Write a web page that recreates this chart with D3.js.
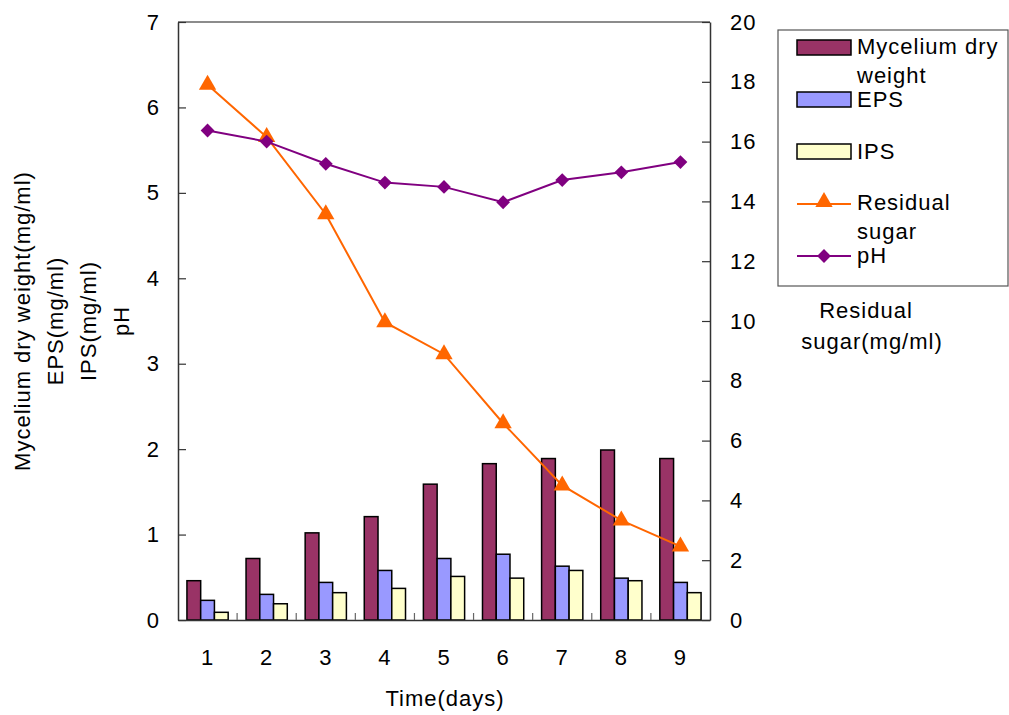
<!DOCTYPE html>
<html>
<head>
<meta charset="utf-8">
<script src="https://cdn.jsdelivr.net/npm/d3@7"></script>
<style>
  body { margin: 0; background: #fff; }
  text { font-family: "Liberation Sans", Arial, sans-serif; letter-spacing: 1px; fill: #000; }
</style>
</head>
<body>
<svg id="chart" width="1009" height="715"></svg>
<script>
// data
const days = ["1", "2", "3", "4", "5", "6", "7", "8", "9"];
const mycelium = [0.46, 0.72, 1.02, 1.21, 1.59, 1.83, 1.89, 1.99, 1.89];
const eps = [0.23, 0.30, 0.44, 0.58, 0.72, 0.77, 0.63, 0.49, 0.44];
const ips = [0.09, 0.19, 0.32, 0.37, 0.51, 0.49, 0.58, 0.46, 0.32];
const residualSugar = [17.9, 16.15, 13.57, 9.96, 8.89, 6.58, 4.5, 3.33, 2.46];
const pH = [5.73, 5.6, 5.34, 5.12, 5.07, 4.89, 5.15, 5.24, 5.36];
const leftTicks = [0, 1, 2, 3, 4, 5, 6, 7];
const rightTicks = [0, 2, 4, 6, 8, 10, 12, 14, 16, 18, 20];

const barSeries = [
    { name: "Mycelium dry weight", values: mycelium, color: "#993366" },
    { name: "EPS", values: eps, color: "#9999FF" },
    { name: "IPS", values: ips, color: "#FFFFCC" }
];

const svg = d3.select("#chart");
const plotL = 178, plotR = 710, plotT = 22, plotB = 620;

const x = d3.scaleBand().domain(days).range([plotL, plotR]).padding(0);
const xSub = d3.scaleBand().domain(barSeries.map(s => s.name))
    .range([0, x.bandwidth()]).paddingInner(0).paddingOuter(0.65);
const yL = d3.scaleLinear().domain([0, 7]).range([plotB, plotT]);
const yR = d3.scaleLinear().domain([0, 20]).range([plotB, plotT]);

// top border of plot area
svg.append("line")
    .attr("x1", plotL).attr("x2", plotR)
    .attr("y1", plotT).attr("y2", plotT)
    .attr("stroke", "#666").attr("stroke-width", 1.5);

// bars
barSeries.forEach(s => {
    svg.append("g")
        .selectAll("rect")
        .data(s.values)
        .enter()
        .append("rect")
            .attr("x", (d, i) => x(days[i]) + xSub(s.name))
            .attr("y", d => yL(d))
            .attr("width", xSub.bandwidth())
            .attr("height", d => yL(0) - yL(d))
            .attr("fill", s.color)
            .attr("stroke", "#000")
            .attr("stroke-width", 1.5);
});

// axes
const leftAxis = svg.append("g")
    .attr("transform", `translate(${plotL},0)`)
    .call(d3.axisLeft(yL).tickValues(leftTicks).tickFormat(d3.format("d"))
        .tickSize(-8).tickPadding(18).tickSizeOuter(0));
const rightAxis = svg.append("g")
    .attr("transform", `translate(${plotR},0)`)
    .call(d3.axisRight(yR).tickValues(rightTicks).tickFormat(d3.format("d"))
        .tickSize(-8).tickPadding(20).tickSizeOuter(0));
const bottomAxis = svg.append("g")
    .attr("transform", `translate(0,${plotB})`)
    .call(d3.axisBottom(x).tickSize(0).tickPadding(29).tickSizeOuter(0));

[leftAxis, rightAxis, bottomAxis].forEach(g => {
    g.selectAll("path").attr("stroke", "#333").attr("stroke-width", 1.5);
    g.selectAll("line").attr("stroke", "#333").attr("stroke-width", 1.2);
    g.selectAll("text").style("font-size", "22px").style("font-family", "Liberation Sans, Arial, sans-serif");
});

// category boundary ticks on the x axis
svg.append("g")
    .selectAll("line")
    .data(days.slice(1))
    .enter()
    .append("line")
        .attr("x1", d => x(d)).attr("x2", d => x(d))
        .attr("y1", plotB - 7).attr("y2", plotB)
        .attr("stroke", "#666").attr("stroke-width", 1.2);

// residual sugar line
const cx = (d, i) => x(days[i]) + x.bandwidth() / 2;
svg.append("path")
    .datum(residualSugar)
    .attr("fill", "none")
    .attr("stroke", "#FF6600")
    .attr("stroke-width", 2)
    .attr("d", d3.line().x(cx).y(d => yR(d)));

const tri = d3.symbol().type(d3.symbolTriangle).size(130);
svg.append("g")
    .selectAll("path")
    .data(residualSugar)
    .enter()
    .append("path")
        .attr("d", tri)
        .attr("transform", (d, i) => `translate(${cx(d, i)},${yR(d)})`)
        .attr("fill", "#FF6600");

// pH line
svg.append("path")
    .datum(pH)
    .attr("fill", "none")
    .attr("stroke", "#800080")
    .attr("stroke-width", 2)
    .attr("d", d3.line().x(cx).y(d => yL(d)));

const dia = d3.symbol().type(d3.symbolSquare).size(95);
svg.append("g")
    .selectAll("path")
    .data(pH)
    .enter()
    .append("path")
        .attr("d", dia)
        .attr("transform", (d, i) => `translate(${cx(d, i)},${yL(d)}) rotate(45)`)
        .attr("fill", "#800080");

// y labels (left)
const leftLabel = ["Mycelium dry weight(mg/ml)", "EPS(mg/ml)", "IPS(mg/ml)", "pH"];
leftLabel.forEach((t, i) => {
    svg.append("text")
        .attr("transform", `translate(${22 + i * 33},${(plotT + plotB) / 2}) rotate(-90)`)
        .attr("text-anchor", "middle")
        .attr("dominant-baseline", "central")
        .style("font-size", "22px")
        .text(t);
});

// right label
svg.append("text")
    .attr("x", 866).attr("y", 318)
    .attr("text-anchor", "middle")
    .style("font-size", "22px")
    .text("Residual");
svg.append("text")
    .attr("x", 872).attr("y", 349)
    .attr("text-anchor", "middle")
    .style("font-size", "22px")
    .text("sugar(mg/ml)");

// x label
svg.append("text")
    .attr("x", 445).attr("y", 706)
    .attr("text-anchor", "middle")
    .style("font-size", "22px")
    .text("Time(days)");

// legend
const legend = svg.append("g");
legend.append("rect")
    .attr("x", 778).attr("y", 30)
    .attr("width", 230).attr("height", 256)
    .attr("fill", "#fff")
    .attr("stroke", "#555").attr("stroke-width", 1.2);

const barLegendY = [40, 92, 144];
barSeries.forEach((s, i) => {
    legend.append("rect")
        .attr("x", 797).attr("y", barLegendY[i])
        .attr("width", 54).attr("height", 15)
        .attr("fill", s.color)
        .attr("stroke", "#000").attr("stroke-width", 1.5);
});
legend.append("text").attr("x", 857).attr("y", 54).style("font-size", "22px").text("Mycelium dry");
legend.append("text").attr("x", 857).attr("y", 83).style("font-size", "22px").text("weight");
legend.append("text").attr("x", 857).attr("y", 107).style("font-size", "22px").text("EPS");
legend.append("text").attr("x", 857).attr("y", 159).style("font-size", "22px").text("IPS");

legend.append("line")
    .attr("x1", 797).attr("x2", 851).attr("y1", 204).attr("y2", 204)
    .attr("stroke", "#FF6600").attr("stroke-width", 2);
legend.append("path")
    .attr("d", tri)
    .attr("transform", "translate(824,202)")
    .attr("fill", "#FF6600");
legend.append("text").attr("x", 857).attr("y", 210).style("font-size", "22px").text("Residual");
legend.append("text").attr("x", 857).attr("y", 239).style("font-size", "22px").text("sugar");

legend.append("line")
    .attr("x1", 797).attr("x2", 851).attr("y1", 256).attr("y2", 256)
    .attr("stroke", "#800080").attr("stroke-width", 2);
legend.append("path")
    .attr("d", dia)
    .attr("transform", "translate(824,256) rotate(45)")
    .attr("fill", "#800080");
legend.append("text").attr("x", 857).attr("y", 263).style("font-size", "22px").text("pH");
</script>
</body>
</html>
